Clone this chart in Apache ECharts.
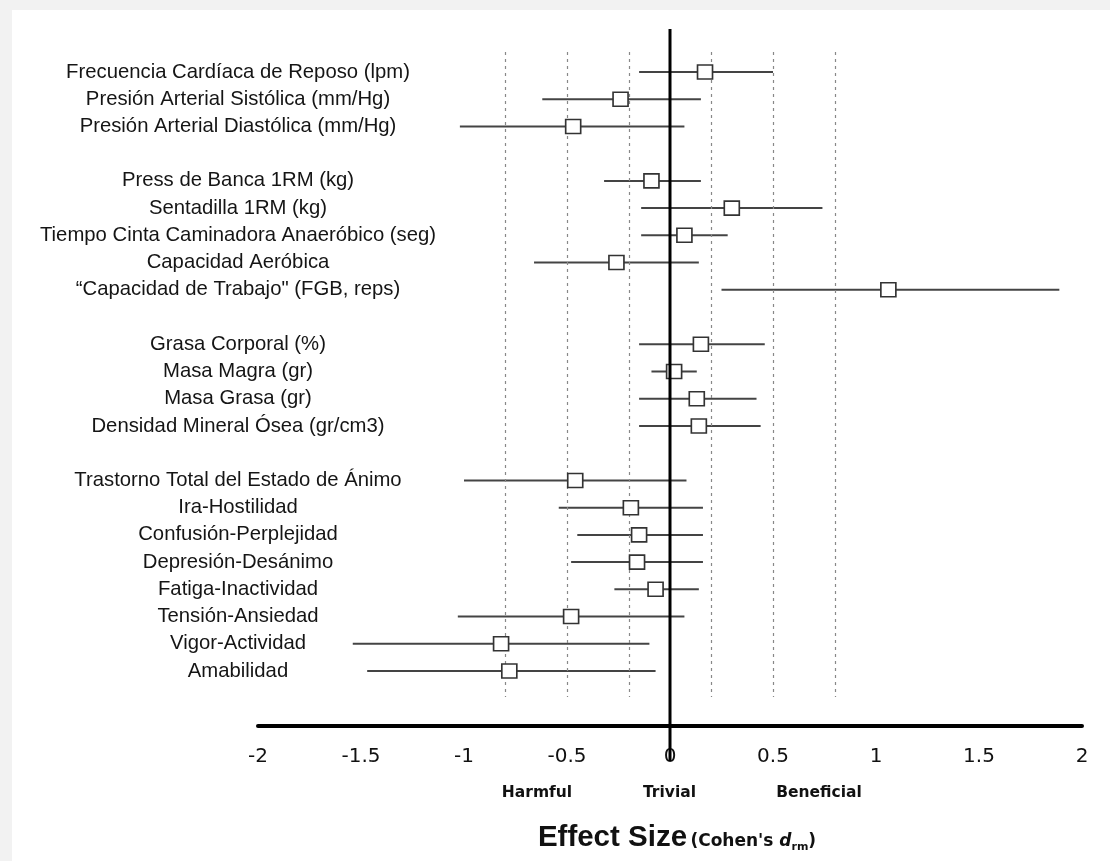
<!DOCTYPE html>
<html>
<head>
<meta charset="utf-8">
<script src="https://cdn.jsdelivr.net/npm/echarts@6/dist/echarts.min.js"></script>
<style>
body{margin:0;background:#f2f2f2;}
#main{position:absolute;left:12px;top:10px;width:1098px;height:851px;background:#fff;}
</style>
</head>
<body>
<div id="main"></div>
<script>
// rows top to bottom, '' = blank row between groups
var labels = [
	'Frecuencia Cardíaca de Reposo (lpm)','Presión Arterial Sistólica (mm/Hg)','Presión Arterial Diastólica (mm/Hg)','',
	'Press de Banca 1RM (kg)','Sentadilla 1RM (kg)','Tiempo Cinta Caminadora Anaeróbico (seg)','Capacidad Aeróbica','“Capacidad de Trabajo" (FGB, reps)','',
	'Grasa Corporal (%)','Masa Magra (gr)','Masa Grasa (gr)','Densidad Mineral Ósea (gr/cm3)','',
	'Trastorno Total del Estado de Ánimo','Ira-Hostilidad','Confusión-Perplejidad','Depresión-Desánimo','Fatiga-Inactividad','Tensión-Ansiedad','Vigor-Actividad','Amabilidad'
];
var effect = [0.17,-0.24,-0.47,null, -0.09,0.30,0.07,-0.26,1.06,null, 0.15,0.02,0.13,0.14,null, -0.46,-0.19,-0.15,-0.16,-0.07,-0.48,-0.82,-0.78];
var lower  = [-0.15,-0.62,-1.02,null, -0.32,-0.14,-0.14,-0.66,0.25,null, -0.15,-0.09,-0.15,-0.15,null, -1.00,-0.54,-0.45,-0.48,-0.27,-1.03,-1.54,-1.47];
var upper  = [0.50,0.15,0.07,null, 0.15,0.74,0.28,0.14,1.89,null, 0.46,0.13,0.42,0.44,null, 0.08,0.16,0.16,0.16,0.14,0.07,-0.10,-0.07];
var thresholds = [-0.8,-0.5,-0.2,0.2,0.5,0.8];
var xTicks = [-2,2,0.5];	// min, max, step

var barData = [];
var pointData = [];
for(var i=0;i<labels.length;i++){
	if(effect[i]==null) continue;
	barData.push([lower[i],upper[i],i]);
	pointData.push([effect[i],i]);
}

var refLines = [];
for(var j=0;j<thresholds.length;j++){
	refLines.push([{coord:[thresholds[j],-0.73]},{coord:[thresholds[j],22.95]}]);
}

var myChart = echarts.init(document.getElementById('main'));
var option = {
	animation:false,
	grid:{left:246,right:28,top:7.5,bottom:135.5},
	xAxis:{
		type:'value',min:xTicks[0],max:xTicks[1],interval:xTicks[2],position:'bottom',
		axisLine:{onZero:false,lineStyle:{color:'#000',width:4}},
		axisTick:{show:false},
		splitLine:{show:false},
		axisLabel:{margin:21,fontFamily:'DejaVu Sans',fontSize:20,color:'#111'}
	},
	yAxis:{
		type:'value',min:-2,max:24,interval:1,inverse:true,
		axisLine:{show:false},axisTick:{show:false},splitLine:{show:false},
		axisLabel:{
			margin:20,align:'center',
			fontFamily:'Liberation Sans',fontSize:20.3,color:'#151515',
			formatter:function(v){ return labels[v]||''; }
		}
	},
	series:[{
		type:'custom',
		clip:false,
		data:barData,
		z:3,
		renderItem:function(params,api){
			var a=api.coord([api.value(0),api.value(2)]);
			var b=api.coord([api.value(1),api.value(2)]);
			return {type:'line',shape:{x1:a[0],y1:a[1],x2:b[0],y2:b[1]},style:{stroke:'#444',lineWidth:2}};
		},
		markLine:{
			silent:true,symbol:'none',label:{show:false},
			lineStyle:{color:'#888',width:1.2,type:[3,4]},
			data:refLines
		}
	},{
		type:'scatter',
		data:pointData,
		symbol:'rect',
		symbolSize:[15,14],
		z:5,
		itemStyle:{color:'#fff',borderColor:'#333',borderWidth:1.6,opacity:1}
	},{
		// zero line, on top, from above the rows down past the axis
		type:'custom',
		clip:false,
		silent:true,
		z:8,
		data:[[0,-1.58,25.3]],
		renderItem:function(params,api){
			var a=api.coord([api.value(0),api.value(1)]);
			var b=api.coord([api.value(0),api.value(2)]);
			return {type:'line',shape:{x1:a[0],y1:a[1],x2:b[0],y2:b[1]},style:{stroke:'#000',lineWidth:3}};
		}
	}],
	graphic:[
		{type:'text',x:525,y:783,style:{text:'Harmful',align:'center',verticalAlign:'middle',font:'bold 15.5px "DejaVu Sans"',fill:'#111'}},
		{type:'text',x:657.5,y:783,style:{text:'Trivial',align:'center',verticalAlign:'middle',font:'bold 15.5px "DejaVu Sans"',fill:'#111'}},
		{type:'text',x:807,y:783,style:{text:'Beneficial',align:'center',verticalAlign:'middle',font:'bold 15.5px "DejaVu Sans"',fill:'#111'}},
		{type:'text',x:665,y:828,style:{
			text:'{a|Effect Size} {b|(Cohen\'s }{d|d}{s|rm}{b|)}',
			align:'center',verticalAlign:'middle',fill:'#111',
			rich:{
				a:{font:'bold 29.5px "Liberation Sans"',fill:'#111',verticalAlign:'bottom'},
				b:{font:'bold 17px "DejaVu Sans"',fill:'#111',verticalAlign:'bottom',padding:[0,0,3,0]},
				d:{font:'italic bold 17px "DejaVu Sans"',fill:'#111',verticalAlign:'bottom',padding:[0,0,3,0]},
				s:{font:'bold 11px "DejaVu Sans"',fill:'#111',verticalAlign:'bottom'}
			}
		}}
	]
};
myChart.setOption(option);
</script>
</body>
</html>
